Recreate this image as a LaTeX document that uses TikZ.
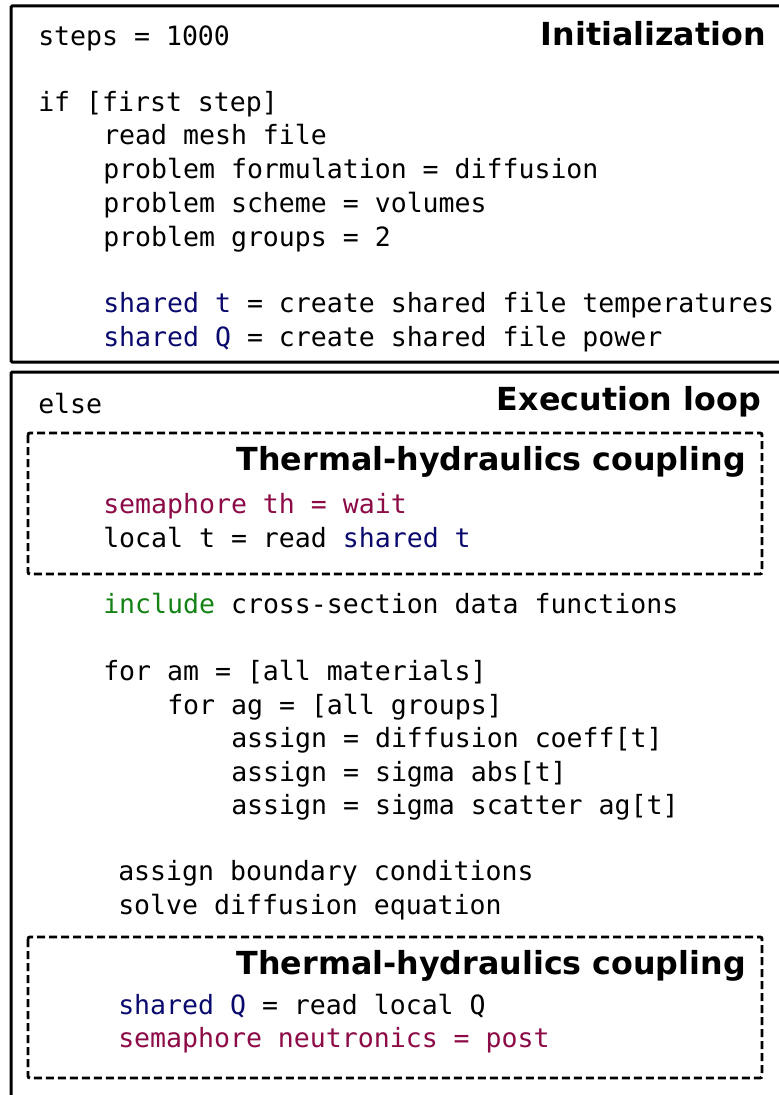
\documentclass[tikz,border=0pt]{standalone}
\usepackage{fontspec}
\usetikzlibrary{positioning}
\newfontfamily\codefont{DejaVu Sans Mono}
\newfontfamily\headfont{DejaVu Sans}
\definecolor{sharedblue}{RGB}{10,10,110}
\definecolor{semapurple}{RGB}{140,10,70}
\definecolor{includegreen}{RGB}{20,130,20}

\begin{document}
\begin{tikzpicture}[
  x=0.75pt, y=-0.75pt,
  code/.style={font={\codefont\fontsize{19.9pt}{24pt}\selectfont},
    anchor=base west, inner sep=0pt},
  heading/.style={font={\headfont\bfseries\fontsize{23.8pt}{28pt}\selectfont},
    anchor=base east, inner sep=0pt},
  outerbox/.style={draw, line width=2.25pt, rounded corners=1pt},
  couplingbox/.style={draw, line width=2.2pt, dash pattern=on 6pt off 3pt,
    rounded corners=1.5pt}
]
\useasboundingbox (0,0) rectangle (778,1095);

% frames
\draw [outerbox] (11,6) rectangle (800,362);
\draw [outerbox] (11,372) rectangle (800,1115);
\draw [couplingbox] (28,433) rectangle (762,574);
\draw [couplingbox] (28,937) rectangle (762,1078);

% headings
\node [heading] (init) at (766,46) {Initialization};
\node [heading] (exec) at (761,410) {Execution loop};
\node [heading] (thA) at (746,470) {Thermal-hydraulics coupling};
\node [heading] (thB) at (746,974) {Thermal-hydraulics coupling};

% initialization
\node [code] (steps) at (38,46) {steps = 1000};
\node [code] (first) at (38,112) {if [first step]};
\node [code] (mesh) at (103,145) {read mesh file};
\node [code] (form) at (103,179) {problem formulation = diffusion};
\node [code] (scheme) at (103,212) {problem scheme = volumes};
\node [code] (groups) at (103,246) {problem groups = 2};
\node [code] (sht) at (103,312) {\textcolor{sharedblue}{shared t} = create shared file temperatures};
\node [code] (shq) at (103,346) {\textcolor{sharedblue}{shared Q} = create shared file power};

% execution loop
\node [code] (else) at (38,413) {else};
\node [code] (wait) at (103,513) {\textcolor{semapurple}{semaphore th = wait}};
\node [code] (loct) at (103,547) {local t = read \textcolor{sharedblue}{shared t}};
\node [code] (incl) at (103,613) {\textcolor{includegreen}{include} cross-section data functions};
\node [code] (foram) at (103,680) {for am = [all materials]};
\node [code] (forag) at (167,714) {for ag = [all groups]};
\node [code] (coeff) at (231,747) {assign = diffusion coeff[t]};
\node [code] (sabs) at (231,781) {assign = sigma abs[t]};
\node [code] (sscat) at (231,814) {assign = sigma scatter ag[t]};
\node [code] (bc) at (118,880) {assign boundary conditions};
\node [code] (solve) at (118,914) {solve diffusion equation};
\node [code] (rdq) at (118,1014) {\textcolor{sharedblue}{shared Q} = read local Q};
\node [code] (post) at (118,1047) {\textcolor{semapurple}{semaphore neutronics = post}};

\end{tikzpicture}
\end{document}
